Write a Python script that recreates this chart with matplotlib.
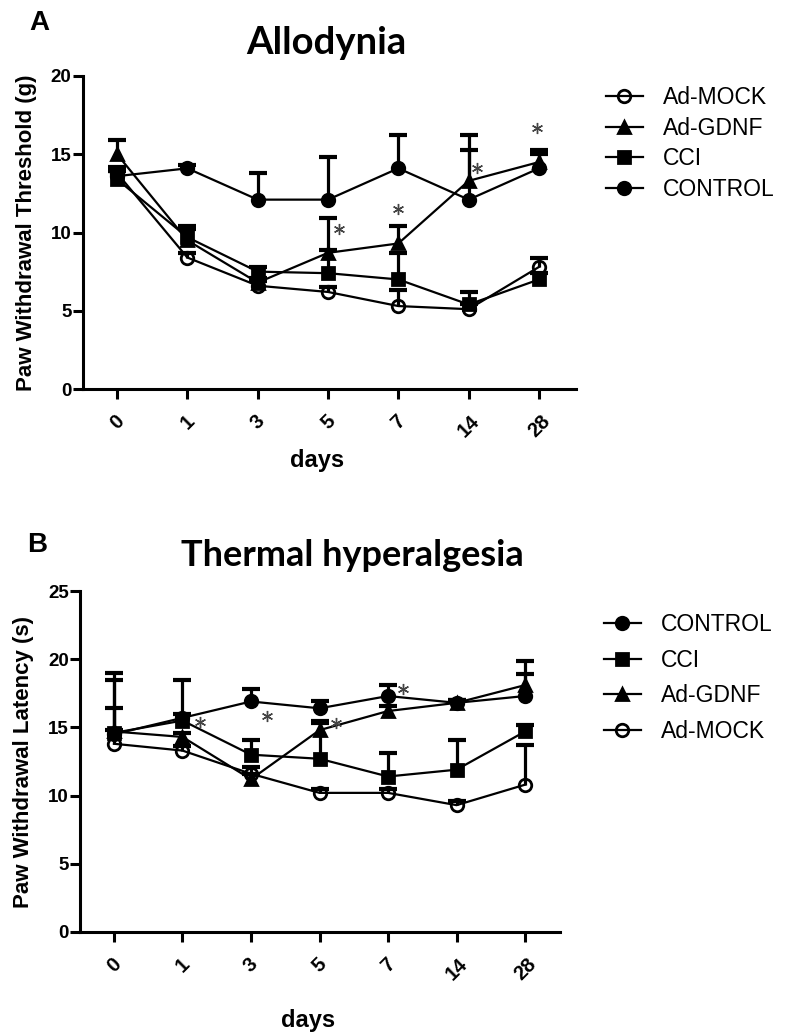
import matplotlib
matplotlib.use("Agg")
import matplotlib.pyplot as plt
import numpy as np

plt.rcParams['font.family'] = ['Liberation Sans', 'DejaVu Sans']

# days after surgery (categorical axis)
days = ['0', '1', '3', '5', '7', '14', '28']

# Allodynia: paw withdrawal threshold (g), mean and upper SEM
A_control = [13.6, 14.1, 12.1, 12.1, 14.1, 12.1, 14.1]
A_control_sem = [0.3, 0.2, 1.7, 2.7, 2.1, 4.1, 0.9]
A_gdnf = [15.0, 9.5, 6.8, 8.7, 9.3, 13.3, 14.5]
A_gdnf_sem = [0.9, 0.9, 0.3, 2.2, 1.1, 2.0, 0.8]
A_cci = [13.4, 9.7, 7.5, 7.4, 7.0, 5.4, 7.0]
A_cci_sem = [0.5, 0.5, 0.3, 1.5, 1.7, 0.8, 0.4]
A_mock = [13.8, 8.4, 6.6, 6.2, 5.3, 5.1, 7.8]
A_mock_sem = [0.4, 0.3, 0.3, 0.3, 1.0, 0.3, 0.6]
A_star_x = [3.15, 3.99, 5.12, 5.97]
A_star_y = [10.2, 11.5, 14.1, 16.7]

# Thermal hyperalgesia: paw withdrawal latency (s)
B_control = [14.5, 15.7, 16.9, 16.4, 17.3, 16.8, 17.3]
B_control_sem = [0.3, 0.3, 0.9, 0.5, 0.8, 0.2, 1.6]
B_cci = [14.6, 15.5, 13.0, 12.7, 11.4, 11.9, 14.7]
B_cci_sem = [1.8, 3.0, 1.1, 2.8, 1.7, 2.2, 0.5]
B_gdnf = [14.7, 14.3, 11.2, 14.8, 16.2, 16.8, 18.1]
B_gdnf_sem = [4.3, 0.3, 0.4, 0.5, 0.4, 0.2, 1.8]
B_mock = [13.8, 13.3, 11.6, 10.2, 10.2, 9.3, 10.8]
B_mock_sem = [4.7, 0.3, 0.5, 0.3, 0.3, 0.3, 2.9]
B_star_x = [1.25, 2.24, 3.24, 4.22]
B_star_y = [15.4, 15.8, 15.3, 17.8]

styles = {
    'CONTROL': dict(marker='o', mfc='black'),
    'CCI': dict(marker='s', mfc='black'),
    'Ad-GDNF': dict(marker='^', mfc='black'),
    'Ad-MOCK': dict(marker='o', mfc='none'),
}

W, H = 798, 1033
fig = plt.figure(figsize=(W / 100, H / 100), dpi=100)
x = np.arange(len(days))


def panel(rect, xlim, ylim, yticks, ylabel, series, stars, xlab_y, ylab_x):
    ax = fig.add_axes(rect)
    handles = {}
    for name, y, sem in series:
        y = np.array(y)
        top = y + np.array(sem)
        ax.vlines(x, y, top, color='black', lw=2.3, zorder=2)
        ax.plot(x, top, ls='none', marker='_', ms=13, mew=3, color='black', zorder=2)
        ln, = ax.plot(x, y, color='black', lw=1.6, ms=9, mec='black', mew=2.0,
                      zorder=3, **styles[name])
        handles[name] = ln
    ax.plot(stars[0], stars[1], ls='none', marker=(6, 2, 0), ms=8, mew=1.0,
            color='#444444', zorder=4)
    ax.set_xlim(*xlim)
    ax.set_ylim(*ylim)
    ax.set_yticks(yticks)
    ax.set_xticks(x)
    ax.set_xticklabels(days, rotation=45, ha='center', va='top')
    for s in ['top', 'right']:
        ax.spines[s].set_visible(False)
    for s in ['left', 'bottom']:
        ax.spines[s].set_linewidth(2.2)
    ax.tick_params(width=2.2, length=7, labelsize=13.5)
    ax.tick_params(axis='x', pad=9, labelsize=14.5)
    ax.tick_params(axis='y', pad=1)
    for lab in ax.get_xticklabels() + ax.get_yticklabels():
        lab.set_fontweight('bold')
    ax.set_xlabel('days', fontsize=17, fontweight='bold', va='center')
    ax.xaxis.set_label_coords(0.475, xlab_y)
    ax.set_ylabel(ylabel, fontsize=16, fontweight='bold', va='center')
    ax.yaxis.set_label_coords(ylab_x, 0.5)
    return ax, handles


axA, hA = panel([82.7 / W, 1 - 389 / H, (576 - 82.7) / W, (389 - 76) / H],
                (-0.488, 6.526), (0, 20), [0, 5, 10, 15, 20],
                'Paw Withdrawal Threshold (g)',
                [('CONTROL', A_control, A_control_sem), ('CCI', A_cci, A_cci_sem),
                 ('Ad-GDNF', A_gdnf, A_gdnf_sem), ('Ad-MOCK', A_mock, A_mock_sem)],
                (A_star_x, A_star_y), -0.23, -0.113)

axB, hB = panel([80 / W, 1 - 932 / H, (560 - 80) / W, (932 - 591) / H],
                (-0.496, 6.51), (0, 25), [0, 5, 10, 15, 20, 25],
                'Paw Withdrawal Latency (s)',
                [('CONTROL', B_control, B_control_sem), ('CCI', B_cci, B_cci_sem),
                 ('Ad-GDNF', B_gdnf, B_gdnf_sem), ('Ad-MOCK', B_mock, B_mock_sem)],
                (B_star_x, B_star_y), -0.26, -0.117)

orderA = ['Ad-MOCK', 'Ad-GDNF', 'CCI', 'CONTROL']
orderB = ['CONTROL', 'CCI', 'Ad-GDNF', 'Ad-MOCK']
fig.legend([hA[k] for k in orderA], orderA, loc='upper left',
           bbox_to_anchor=(606 / W, 1 - 86 / H), frameon=False,
           prop={'family': 'Liberation Sans', 'size': 16.5},
           handlelength=1.6, handletextpad=0.9, labelspacing=0.33,
           borderpad=0, borderaxespad=0)
fig.legend([hB[k] for k in orderB], orderB, loc='upper left',
           bbox_to_anchor=(604 / W, 1 - 613 / H), frameon=False,
           prop={'family': 'Liberation Sans', 'size': 16.5},
           handlelength=1.6, handletextpad=0.9, labelspacing=0.55,
           borderpad=0, borderaxespad=0)

fig.text(326 / W, 1 - 43 / H, 'Allodynia', ha='center', va='center',
         fontsize=27.5, fontweight='bold', family='Lato')
fig.text(352 / W, 1 - 555 / H, 'Thermal hyperalgesia', ha='center', va='center',
         fontsize=26, fontweight='bold', family='Lato')
fig.text(39 / W, 1 - 23 / H, 'A', ha='center', va='center',
         fontsize=20, fontweight='bold')
fig.text(37 / W, 1 - 545 / H, 'B', ha='center', va='center',
         fontsize=20, fontweight='bold')

fig.savefig('out.png', dpi=100)
